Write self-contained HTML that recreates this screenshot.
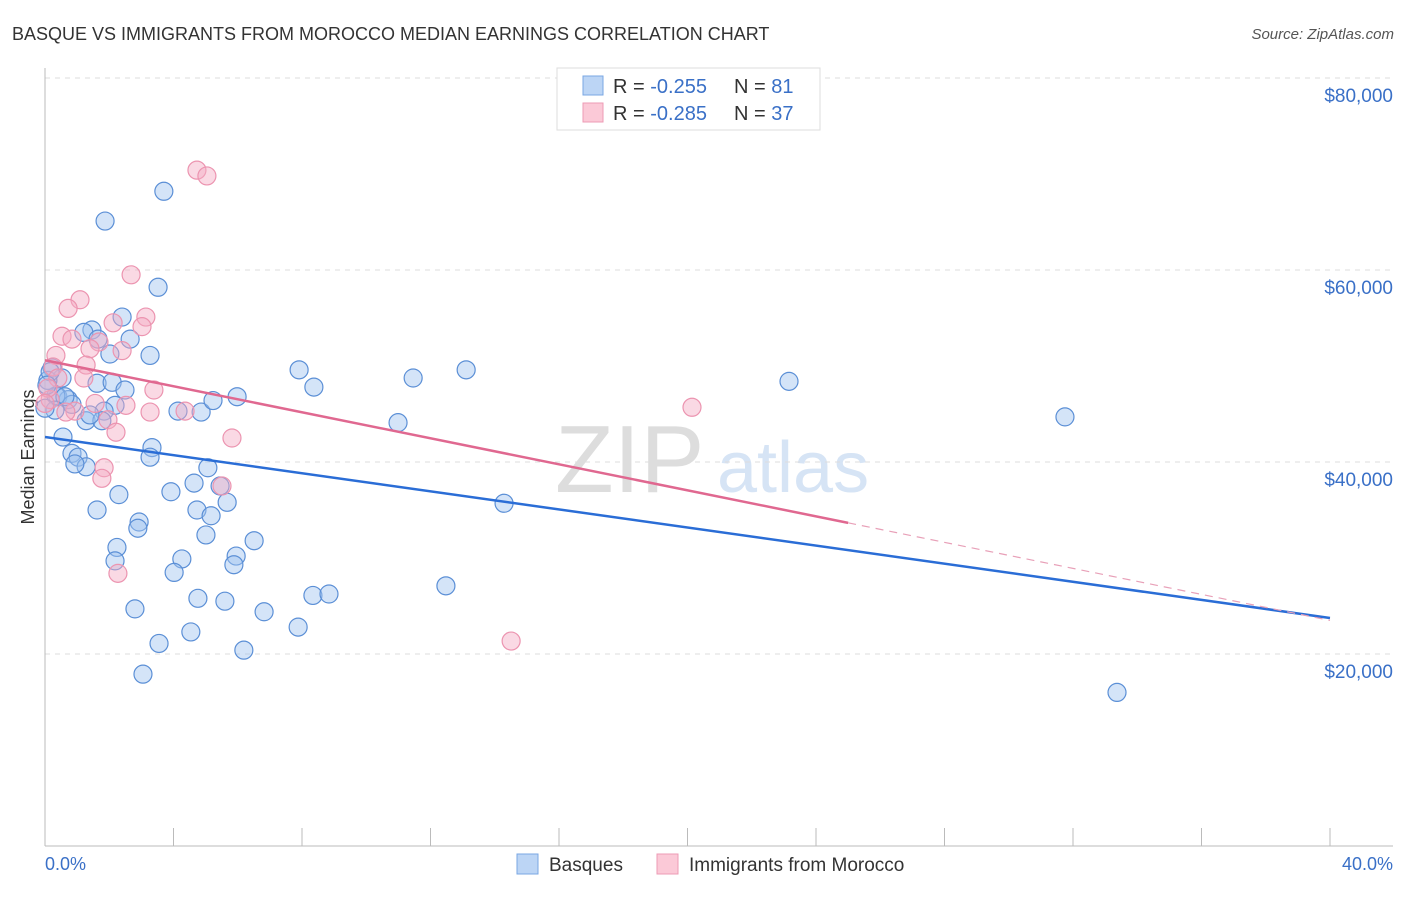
<!DOCTYPE html>
<html><head><meta charset="utf-8"><style>
body{margin:0;background:#fff;font-family:"Liberation Sans",sans-serif}
svg text{font-family:"Liberation Sans",sans-serif}
</style></head><body>
<svg id="chart" width="1406" height="892" xmlns="http://www.w3.org/2000/svg">
<text x="12" y="40" font-size="18" fill="#333">BASQUE VS IMMIGRANTS FROM MOROCCO MEDIAN EARNINGS CORRELATION CHART</text>
<text x="1394" y="39" font-size="15" fill="#555" font-style="italic" text-anchor="end">Source: ZipAtlas.com</text>
<text x="555" y="492" font-size="96" fill="#ddd" font-family="Liberation Serif">ZIP</text>
<text x="717" y="492" font-size="72" fill="#d6e4f5">atlas</text>
<text transform="translate(34,457) rotate(-90)" font-size="18" fill="#333" text-anchor="middle">Median Earnings</text>
<g id="grid"></g><g id="pts"></g><g id="trend"></g>
<g>
<rect x="557" y="68" width="263" height="62" fill="#fff" stroke="#ddd"/>
<rect x="583" y="76" width="20" height="19" fill="#bcd5f5" stroke="#7aa7e3"/>
<rect x="583" y="103" width="20" height="19" fill="#fbc9d7" stroke="#ee9bb4"/>
<text x="613" y="93" font-size="20" fill="#333">R = <tspan fill="#3a70c7">-0.255</tspan></text>
<text x="734" y="93" font-size="20" fill="#333">N = <tspan fill="#3a70c7"> 81</tspan></text>
<text x="613" y="120" font-size="20" fill="#333">R = <tspan fill="#3a70c7">-0.285</tspan></text>
<text x="734" y="120" font-size="20" fill="#333">N = <tspan fill="#3a70c7">37</tspan></text>
</g>
<g>
<rect x="517" y="854" width="21" height="20" fill="#bcd5f5" stroke="#7aa7e3"/>
<text x="549" y="871" font-size="19" fill="#333">Basques</text>
<rect x="657" y="854" width="21" height="20" fill="#fbc9d7" stroke="#ee9bb4"/>
<text x="689" y="871" font-size="19" fill="#333">Immigrants from Morocco</text>
</g>
<text x="45" y="870" font-size="18" fill="#3a70c7">0.0%</text>
<text x="1393" y="870" font-size="18" fill="#3a70c7" text-anchor="end">40.0%</text>
</svg>
<script>
const yTicks=[20000,40000,60000,80000];
const yTickLabels=["$20,000","$40,000","$60,000","$80,000"];
const basqueX=[1.87,3.70,3.52,2.40,1.46,1.21,1.65,2.65,2.02,3.27,0.22,0.53,1.62,2.09,2.49,5.98,7.91,8.37,11.46,13.11,23.16,31.75,0.40,0.72,0.84,0.34,2.18,1.84,1.28,1.77,4.14,4.86,5.23,10.99,0.56,3.33,3.27,0.84,1.03,1.28,0.93,5.07,4.64,5.45,2.30,3.92,1.62,4.73,5.67,5.17,14.29,2.93,2.89,5.01,2.24,6.51,5.95,5.88,2.18,4.26,4.02,12.48,8.34,8.84,4.76,5.60,6.82,2.80,4.54,7.88,3.55,6.19,3.05,33.37,0.09,0.16,0.06,0.62,1.40,0.31,0.0];
const basqueY=[65.1,68.2,58.2,55.1,53.75,53.5,52.8,52.8,51.25,51.1,49.8,48.75,48.2,48.3,47.5,46.8,49.6,47.8,48.75,49.6,48.4,44.7,46.8,46.5,46.0,46.9,45.9,45.3,44.3,44.3,45.3,45.2,46.4,44.1,42.6,41.5,40.5,40.9,40.5,39.5,39.8,39.4,37.8,37.5,36.6,36.9,35.0,35.0,35.8,34.4,35.7,33.75,33.1,32.4,31.1,31.8,30.2,29.3,29.7,29.9,28.5,27.1,26.1,26.25,25.8,25.5,24.4,24.7,22.3,22.8,21.1,20.4,17.9,16.0,48.5,49.4,48.0,46.8,44.9,45.4,45.6];
const moroccoX=[4.73,5.04,2.68,1.09,0.72,3.14,2.12,3.02,0.53,0.84,1.68,1.40,2.40,0.34,1.28,0.25,0.40,1.21,3.39,1.56,2.52,3.27,4.36,0.93,1.96,2.21,5.82,20.14,1.84,1.77,5.51,2.27,14.51,0.16,0.09,0.65,0.0];
const moroccoY=[70.4,69.8,59.5,56.9,56.0,55.1,54.5,54.1,53.1,52.8,52.5,51.8,51.6,51.1,50.1,49.9,48.75,48.75,47.5,46.1,45.9,45.2,45.3,45.3,44.4,43.1,42.5,45.7,39.4,38.3,37.5,28.4,21.35,46.5,47.7,45.2,46.1];
const basqueTrend=[42.6,23.75];
const moroccoTrend=[50.6,23.5];
const moroccoSolidEnd=25;
const NS="http://www.w3.org/2000/svg";
const xs=p=>45+p*(1285/40);
const ys=k=>654-(k-20)*9.6;
function mk(t,a,parent){const e=document.createElementNS(NS,t);for(const k in a)e.setAttribute(k,a[k]);parent.appendChild(e);return e;}
const grid=document.getElementById('grid');
yTicks.forEach((v,i)=>{const y=ys(v/1000);
const l=mk('line',{x1:45,x2:1393,y1:y,y2:y,stroke:'#ddd','stroke-dasharray':'5,5'},grid);


const t=mk('text',{x:1393,y:y+24,'font-size':19,fill:'#3a70c7','text-anchor':'end'},grid);
t.textContent=yTickLabels[i];


});
const ax=mk('line',{x1:45,x2:45,y1:68,y2:846,stroke:'#bbb'},grid);


const bx=mk('line',{x1:45,x2:1393,y1:846,y2:846,stroke:'#bbb'},grid);


for(let i=1;i<=10;i++){const x=xs(i*4);const tk=mk('line',{x1:x,x2:x,y1:828,y2:846,stroke:'#bbb'},grid);

}
const pts=document.getElementById('pts');
basqueX.forEach((x,i)=>{const c=mk('circle',{cx:xs(x),cy:ys(basqueY[i]),r:9,fill:'rgba(160,195,240,0.45)',stroke:'#5b8fd6','stroke-width':1.2},pts);

});
moroccoX.forEach((x,i)=>{const c=mk('circle',{cx:xs(x),cy:ys(moroccoY[i]),r:9,fill:'rgba(245,170,195,0.45)',stroke:'#ec94b0','stroke-width':1.2},pts);

});
const tr=document.getElementById('trend');
const bl=mk('line',{x1:xs(0),y1:ys(basqueTrend[0]),x2:xs(40),y2:ys(basqueTrend[1]),stroke:'#2a6dd6','stroke-width':2.5},tr);


const mAt=p=>moroccoTrend[0]+(moroccoTrend[1]-moroccoTrend[0])*p/40;
const ml=mk('line',{x1:xs(0),y1:ys(mAt(0)),x2:xs(moroccoSolidEnd),y2:ys(mAt(moroccoSolidEnd)),stroke:'#e06890','stroke-width':2.5},tr);


const md=mk('line',{x1:xs(moroccoSolidEnd),y1:ys(mAt(moroccoSolidEnd)),x2:xs(40),y2:ys(mAt(40)),stroke:'#e8a0b8','stroke-width':1.2,'stroke-dasharray':'8,6'},tr);


</script>
</body></html>
